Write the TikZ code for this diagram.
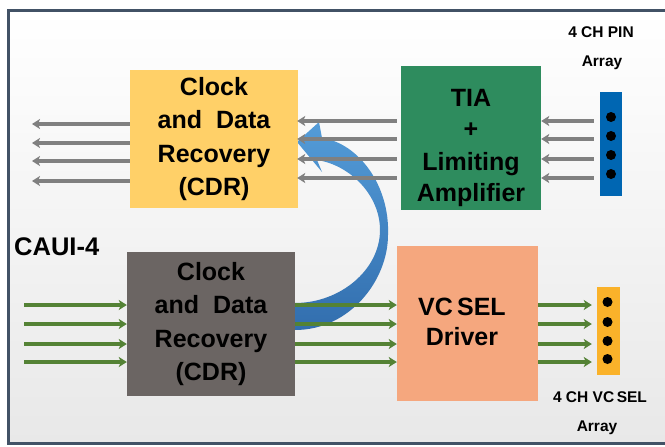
\documentclass[tikz,border=0pt]{standalone}
\usepackage{fontspec}
\setmainfont{Liberation Sans}
\usetikzlibrary{arrows.meta}

\definecolor{framecol}{RGB}{66,82,102}
\definecolor{cdryellow}{RGB}{255,208,104}
\definecolor{tiagreen}{RGB}{46,140,94}
\definecolor{pinblue}{RGB}{0,102,178}
\definecolor{cdrgray}{RGB}{107,101,99}
\definecolor{drvsalmon}{RGB}{245,167,126}
\definecolor{vcselyellow}{RGB}{250,178,42}
\definecolor{garrow}{RGB}{128,128,128}
\definecolor{grarrow}{RGB}{84,130,53}
\definecolor{loopblue1}{RGB}{84,156,216}
\definecolor{loopblue2}{RGB}{50,110,174}

\tikzset{
  blockbox/.style={draw=none, inner sep=0pt, align=center,
    font=\bfseries\fontsize{25}{33.5}\selectfont},
  arraybox/.style={draw=none, inner sep=0pt},
  grayarr/.style={draw=garrow, line width=3.5pt,
    -{Stealth[length=8pt,width=10pt,inset=2pt]}},
  greenarr/.style={draw=grarrow, line width=3.5pt,
    -{Stealth[length=8pt,width=10pt,inset=2pt]}},
  smalllabel/.style={font=\bfseries\fontsize{15.5}{18}\selectfont, inner sep=0pt},
}

\begin{document}
\begin{tikzpicture}[x=1pt,y=-1pt]
\useasboundingbox (0,0) rectangle (665,447);

% panel background and frame
\shade[top color=white, bottom color=black!9] (8.5,10.5) rectangle (665,443);
\draw[framecol, line width=3pt] (665,10.5) -- (8.5,10.5) -- (8.5,443) -- (665,443);

% curved loop-back arrow (behind the signal lines)
\shade[top color=loopblue1, bottom color=loopblue2]
  (295,303) .. controls (340,303) and (380,270) .. (380,230)
  .. controls (380,195) and (350,165) .. (317,160)
  -- (322,172) -- (297,142) -- (319,122) -- (322,138)
  .. controls (358,143) and (390,185) .. (388,235)
  .. controls (388,280) and (350,330) .. (295,330) -- cycle;

% blocks
\node[blockbox, fill=cdryellow, minimum width=168pt, minimum height=138pt]
  (cdrtop) at (214,139) {Clock\\and\ \ Data\\Recovery\\(CDR)};
\node[blockbox, fill=tiagreen, minimum width=140pt, minimum height=144pt]
  (tia) at (471,138) {};
\node[blockbox] (tiatext) at (471,148) {TIA\\[-3pt]+\\Limiting\\[-3pt]Amplifier};
\node[arraybox, fill=pinblue, minimum width=22pt, minimum height=104pt]
  (pin) at (611,144) {};
\node[blockbox, fill=cdrgray, minimum width=168pt, minimum height=144pt]
  (cdrbot) at (211,324) {Clock\\and\ \ Data\\Recovery\\(CDR)};
\node[blockbox, fill=drvsalmon, minimum width=141pt, minimum height=155pt]
  (drv) at (467.5,323.5) {};
\node[blockbox] (drvtext) at (462,322) {VC\,SEL\\[-3pt]Driver};
\node[arraybox, fill=vcselyellow, minimum width=23pt, minimum height=88pt]
  (varr) at (608.5,331) {};

% array elements
\foreach \y in {117,136,155,174} \fill (611,\y) circle (5pt);
\foreach \y in {302,322,341,359} \fill (607.5,\y) circle (5pt);

% labels
\node[smalllabel] (pinlbl) at (601,32) {4 CH PIN};
\node[smalllabel] (pinlbl2) at (602,63) {Array};
\node[smalllabel] (vlbl) at (600,397) {4 CH VC\,SEL};
\node[smalllabel] (vlbl2) at (597,428) {Array};
\node[font=\bfseries\fontsize{25.5}{28}\selectfont, anchor=west, inner sep=0pt]
  (caui) at (14,247) {CAUI-4};

% receive path: PIN -> TIA -> CDR -> host
\foreach \y in {121,139,159,178} {
  \draw[grayarr, shorten <=6pt] (pin.west |- 0,\y) -- (tia.east |- 0,\y);
  \draw[grayarr, shorten <=4pt, shorten >=-1pt] (tia.west |- 0,\y) -- (cdrtop.east |- 0,\y);
}
\foreach \y [count=\i] in {124,143,161,181} {
  \coordinate (rxout\i) at (32,\y);
  \draw[grayarr] (cdrtop.west |- 0,\y) -- (rxout\i);
}

% transmit path: host -> CDR -> driver -> VCSEL
\foreach \y [count=\i] in {305,324,344,362} {
  \coordinate (txin\i) at (24,\y);
  \draw[greenarr] (txin\i) -- (cdrbot.west |- 0,\y);
  \draw[greenarr] (cdrbot.east |- 0,\y) -- (drv.west |- 0,\y);
  \draw[greenarr, shorten >=5pt] (drv.east |- 0,\y) -- (varr.west |- 0,\y);
}
\end{tikzpicture}
\end{document}
